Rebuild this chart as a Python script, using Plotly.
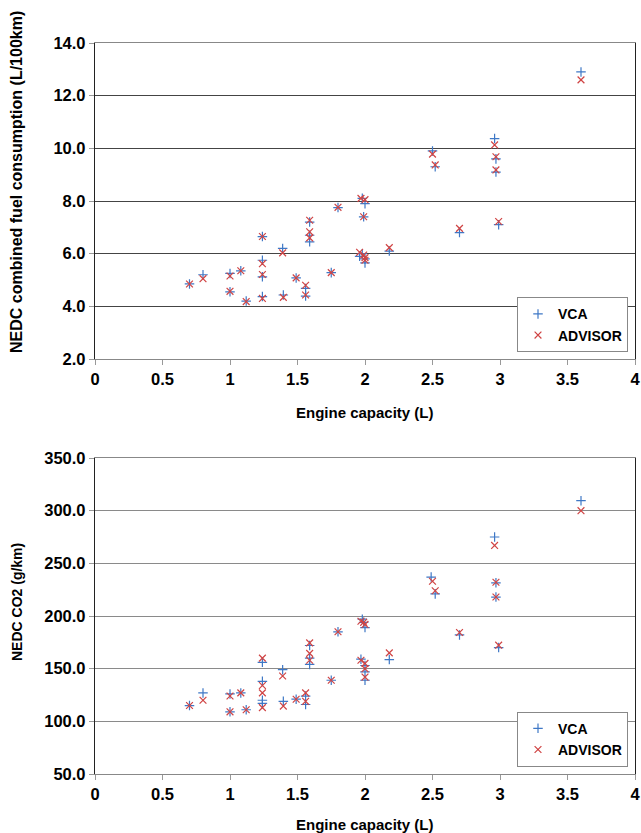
import plotly.graph_objects as go

# ---------- data ----------
fc_vca_x = [0.7, 0.8, 1.0, 1.0, 1.08, 1.12, 1.24, 1.24, 1.24, 1.24, 1.39, 1.395, 1.49, 1.56, 1.56,
            1.59, 1.59, 1.59, 1.75, 1.8, 1.98, 2.0, 1.99, 1.96, 1.98, 2.0, 2.0, 2.18, 2.5, 2.52,
            2.7, 2.96, 2.97, 2.97, 2.99, 3.6]
fc_vca_y = [4.85, 5.2, 5.25, 4.55, 5.35, 4.2, 6.65, 5.75, 5.12, 4.37, 6.2, 4.43, 5.08, 4.68, 4.39,
            7.2, 6.7, 6.45, 5.28, 7.75, 8.1, 7.9, 7.4, 5.9, 6.0, 5.8, 5.65, 6.1, 9.9, 9.3,
            6.8, 10.37, 9.6, 9.1, 7.1, 12.9]
fc_adv_x = [0.7, 0.8, 1.0, 1.0, 1.08, 1.12, 1.24, 1.24, 1.24, 1.24, 1.39, 1.395, 1.49, 1.56, 1.56,
            1.59, 1.59, 1.59, 1.75, 1.8, 1.97, 2.0, 1.99, 1.96, 1.99, 2.0, 2.0, 2.18, 2.5, 2.52,
            2.7, 2.96, 2.97, 2.97, 2.99, 3.6]
fc_adv_y = [4.85, 5.05, 5.15, 4.57, 5.35, 4.18, 6.65, 5.62, 5.21, 4.3, 6.03, 4.34, 5.08, 4.8, 4.43,
            7.27, 6.83, 6.6, 5.28, 7.76, 8.1, 8.05, 7.4, 6.05, 5.95, 5.85, 5.75, 6.23, 9.78, 9.37,
            6.96, 10.13, 9.68, 9.18, 7.22, 12.6]

co2_vca_x = [0.7, 0.8, 1.0, 1.0, 1.08, 1.12, 1.24, 1.24, 1.24, 1.24, 1.39, 1.395, 1.49, 1.56, 1.56,
             1.59, 1.59, 1.59, 1.75, 1.8, 1.98, 2.0, 1.99, 1.97, 2.0, 2.0, 2.0, 2.18, 2.49, 2.52,
             2.7, 2.96, 2.97, 2.97, 2.99, 3.6]
co2_vca_y = [115, 127, 126, 109, 127, 111, 156, 138, 120, 117, 149, 119, 121, 124, 116,
             172, 160, 154, 139, 185, 197, 189, 194, 159, 153, 147, 139, 158.6, 237, 221,
             182, 275, 231.5, 218, 170, 309.5]
co2_adv_x = [0.7, 0.8, 1.0, 1.0, 1.08, 1.12, 1.24, 1.24, 1.24, 1.24, 1.39, 1.395, 1.49, 1.56, 1.56,
             1.59, 1.59, 1.59, 1.75, 1.8, 1.97, 2.0, 1.99, 1.97, 2.0, 2.0, 2.0, 2.18, 2.5, 2.52,
             2.7, 2.96, 2.97, 2.97, 2.99, 3.6]
co2_adv_y = [115, 120, 124, 109, 127, 111, 160, 134, 127, 113, 143, 114.5, 121, 127, 119,
             174.5, 164.5, 158, 139, 185, 195, 192, 194, 158, 155, 150, 142, 165, 233, 224,
             184.3, 267, 232, 218, 172.3, 300]

series_names = ["VCA", "ADVISOR"]
x_title = "Engine capacity (L)"
y1_title = "NEDC combined fuel consumption (L/100km)"
y2_title = "NEDC CO2 (g/km)"

# ---------- style ----------
FONT = "Liberation Sans, Arial, Helvetica, sans-serif"
BLUE = "#3f78c6"
RED = "#d04444"

fig = go.Figure()

def add(x, y, name, sym, color, xa, ya, legend):
    fig.add_trace(go.Scatter(
        x=x, y=y, mode="markers", name=name, xaxis=xa, yaxis=ya, legend=legend,
        marker=dict(symbol=sym, size=6.8, color=color, line=dict(color=color, width=1.2)),
    ))

add(fc_vca_x, fc_vca_y, series_names[0], "cross-thin-open", BLUE, "x", "y", "legend")
add(fc_adv_x, fc_adv_y, series_names[1], "x-thin-open", RED, "x", "y", "legend")
add(co2_vca_x, co2_vca_y, series_names[0], "cross-thin-open", BLUE, "x2", "y2", "legend2")
add(co2_adv_x, co2_adv_y, series_names[1], "x-thin-open", RED, "x2", "y2", "legend2")

W, H = 641, 833
L, R, T, B = 95, 6, 43, 59
ph = H - T - B
pw = W - L - R

def fy(py):  # pixel y -> paper fraction
    return (H - B - py) / ph

def fx(px):
    return (px - L) / pw

top_dom = [fy(359), 1.0]
bot_dom = [0.0, fy(458)]

tick_font = dict(family=FONT, size=16.5, color="black", weight="bold")
xcommon = dict(range=[0, 4], dtick=0.5, tick0=0, showgrid=False, zeroline=False,
               showline=True, linecolor="#888", linewidth=1, mirror=True,
               ticks="outside", ticklen=5, tickcolor="#999", tickfont=tick_font,
               ticklabeloverflow="allow")
ycommon = dict(showgrid=True, gridwidth=1, zeroline=False,
               showline=True, linecolor="#222", linewidth=1.4, mirror=True,
               ticks="outside", ticklen=5, tickcolor="#999", tickformat=".1f",
               tickfont=tick_font, ticklabeloverflow="allow")

leg_font = dict(family=FONT, size=14, color="black", weight="bold")
fig.update_layout(
    width=W, height=H, autosize=False,
    margin=dict(l=L, r=R, t=T, b=B, autoexpand=False),
    paper_bgcolor="white", plot_bgcolor="white",
    xaxis=dict(anchor="y", domain=[0, 1], **xcommon),
    yaxis=dict(anchor="x", domain=top_dom, range=[2, 14], dtick=2, tick0=2,
               gridcolor="#444", **ycommon),
    xaxis2=dict(anchor="y2", domain=[0, 1], **xcommon),
    yaxis2=dict(anchor="x2", domain=bot_dom, range=[50, 350], dtick=50, tick0=50,
                gridcolor="#8a8a8a", **ycommon),
    legend=dict(x=fx(628), y=fy(297.3), xanchor="right", yanchor="top",
                bgcolor="white", bordercolor="#888", borderwidth=1,
                font=leg_font, itemwidth=30, tracegroupgap=0),
    legend2=dict(x=fx(628), y=fy(711.7), xanchor="right", yanchor="top",
                 bgcolor="white", bordercolor="#888", borderwidth=1,
                 font=leg_font, itemwidth=30, tracegroupgap=0),
    showlegend=True,
)

ann_font = dict(family=FONT, size=15, color="black", weight="bold")
fig.add_annotation(text=x_title, xref="paper", yref="paper",
                   x=0.5, y=fy(412), xanchor="center", yanchor="middle",
                   showarrow=False, font=ann_font)
fig.add_annotation(text=x_title, xref="paper", yref="paper",
                   x=0.5, y=fy(825), xanchor="center", yanchor="middle",
                   showarrow=False, font=ann_font)
fig.add_annotation(text=y1_title, xref="paper", yref="paper",
                   x=fx(16), y=fy(182), xanchor="center", yanchor="middle",
                   textangle=-90, showarrow=False,
                   font=dict(family=FONT, size=16, color="black", weight="bold"))
fig.add_annotation(text=y2_title, xref="paper", yref="paper",
                   x=fx(17), y=fy(602), xanchor="center", yanchor="middle",
                   textangle=-90, showarrow=False,
                   font=dict(family=FONT, size=14, color="black", weight="bold"))

fig.write_html("out.html")
